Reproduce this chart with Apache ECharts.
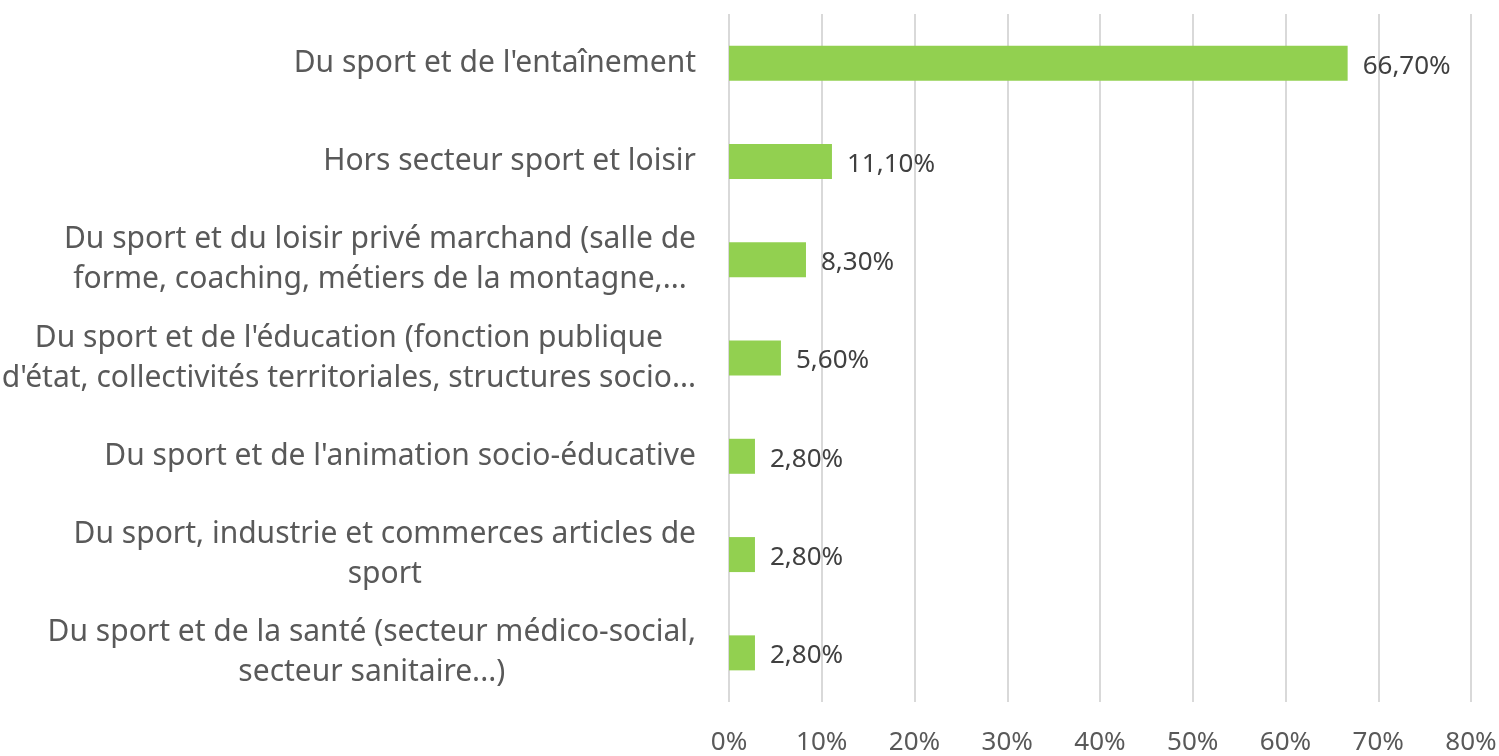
<!DOCTYPE html>
<html>
<head>
<meta charset="utf-8">
<script src="https://cdn.jsdelivr.net/npm/echarts@6/dist/echarts.min.js"></script>
<style>
  html, body { margin: 0; padding: 0; background: #fff; }
  #chart { width: 1499px; height: 756px; }
</style>
</head>
<body>
<div id="chart"></div>
<script>
// categories from top to bottom, lines as they wrap in the picture
var categories = [
    "Du sport et de l'entaînement",
    'Hors secteur sport et loisir',
    'Du sport et du loisir privé marchand (salle de\nforme, coaching, métiers de la montagne,...',
    "Du sport et de l'éducation (fonction publique\nd'état, collectivités territoriales, structures socio...",
    "Du sport et de l'animation socio-éducative",
    'Du sport, industrie et commerces articles de\nsport',
    'Du sport et de la santé (secteur médico-social,\nsecteur sanitaire...)'
];
var values = [66.7, 11.1, 8.3, 5.6, 2.8, 2.8, 2.8];
var tickLabels = ['0%', '10%', '20%', '30%', '40%', '50%', '60%', '70%', '80%'];

var font = '"Noto Sans", "Open Sans", sans-serif';

var chart = echarts.init(document.getElementById('chart'));
chart.setOption({
    animation: false,
    grid: { left: 729, right: 28, top: 14, bottom: 54, outerBoundsMode: 'none' },
    xAxis: {
        type: 'value',
        min: 0,
        max: 80,
        interval: 10,
        axisLine: { show: false },
        axisTick: { show: false },
        splitLine: { lineStyle: { color: '#d9d9d9', width: 2 } },
        axisLabel: {
            margin: 28,
            color: '#595959',
            fontSize: 26,
            fontFamily: font,
            formatter: function (v) { return tickLabels[Math.round(v / 10)]; }
        }
    },
    yAxis: {
        type: 'category',
        inverse: true,
        data: categories,
        axisLine: { show: false },
        axisTick: { show: false },
        axisLabel: {
            margin: 33,
            color: '#595959',
            fontSize: 30,
            fontFamily: font,
            lineHeight: 40,
            formatter: function (v) {
                return v.split('\n').map(function (s) { return '{c|' + s + '}'; }).join('\n');
            },
            rich: {
                c: { align: 'center', color: '#595959', fontSize: 30, fontFamily: font, lineHeight: 40 }
            }
        }
    },
    series: [{
        type: 'bar',
        data: values,
        barWidth: 35,
        itemStyle: { color: '#92d050' },
        label: {
            show: true,
            position: 'right',
            distance: 15,
            offset: [0, 3],
            color: '#404040',
            fontSize: 26,
            fontFamily: font,
            formatter: function (p) { return p.value.toFixed(2).replace('.', ',') + '%'; }
        }
    }]
});
</script>
</body>
</html>
